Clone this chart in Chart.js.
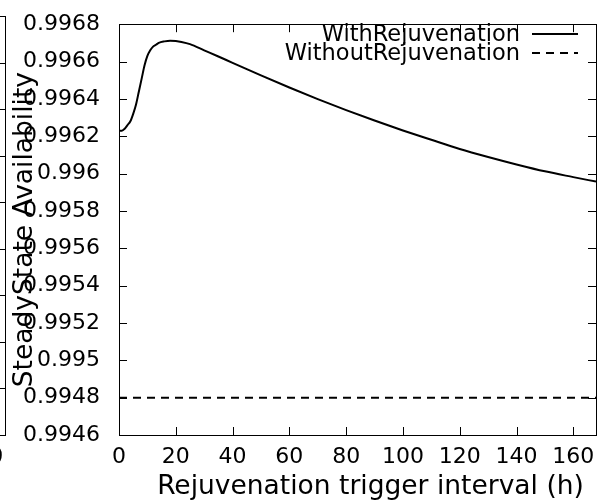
<!DOCTYPE html>
<html>
<head>
<meta charset="utf-8">
<script src="https://cdn.jsdelivr.net/npm/chart.js@4/dist/chart.umd.min.js"></script>
<style>
  html, body { margin: 0; padding: 0; background: #fff; }
  #wrap { position: relative; width: 602px; height: 502px; overflow: hidden; background: #fff; }
  #main { position: absolute; left: 0; top: 0; }
  #frag { position: absolute; left: -591px; top: 0; }
</style>
</head>
<body>
<div id="wrap">
  <canvas id="frag" width="602" height="502"></canvas>
  <canvas id="main" width="602" height="502"></canvas>
</div>
<script>
// ---- data ----
const seriesLabels = ['WithRejuvenation', 'WithoutRejuvenation'];
const withX = [0, 1, 2, 3, 4, 5, 6, 7, 8, 9, 10, 11, 12, 13, 14, 16, 18, 20, 22, 25, 30, 35, 40, 50, 60, 70, 80, 90, 100, 110, 120, 130, 140, 150, 160, 168];
const withY = [0.99623, 0.99623, 0.99624, 0.99626, 0.99628, 0.99632, 0.99637, 0.99644, 0.99651, 0.99658, 0.99663, 0.99666, 0.99668, 0.99669, 0.996700, 0.996708, 0.996712, 0.996710, 0.996705, 0.996693, 0.996660, 0.996627, 0.996593, 0.996526, 0.996461, 0.996399, 0.996340, 0.996284, 0.996231, 0.996181, 0.996132, 0.996089, 0.996049, 0.996012, 0.995981, 0.995957];
const withoutX = [0, 168];
const withoutY = [0.9948, 0.9948];
const xTickValues = [0, 20, 40, 60, 80, 100, 120, 140, 160];
const yTickValues = [0.9946, 0.9948, 0.995, 0.9952, 0.9954, 0.9956, 0.9958, 0.996, 0.9962, 0.9964, 0.9966, 0.9968];
const fragYTickValues = [0, 1, 2, 3, 4, 5, 6, 7, 8, 9];
const xTitle = 'Rejuvenation trigger interval (h)';
const yTitle = 'SteadyState Availability';

const FONT = "'DejaVu Sans', 'Liberation Sans', sans-serif";
Chart.defaults.font.family = FONT;
Chart.defaults.color = '#000';

const toPts = (xs, ys) => xs.map((x, i) => ({ x, y: ys[i] }));

const framePlugin = {
  id: 'gnuFrame',
  afterDatasetsDraw(chart) {
    const { ctx, chartArea: a, scales } = chart;
    ctx.save();
    ctx.strokeStyle = '#000';
    ctx.lineWidth = 1;
    const L = 8;
    ctx.beginPath();
    scales.x.ticks.forEach(t => {
      const p = Math.round(scales.x.getPixelForValue(t.value)) + 0.5;
      ctx.moveTo(p, a.bottom); ctx.lineTo(p, a.bottom - L);
      ctx.moveTo(p, a.top); ctx.lineTo(p, a.top + L);
    });
    scales.y.ticks.forEach(t => {
      const p = Math.round(scales.y.getPixelForValue(t.value)) + 0.5;
      ctx.moveTo(a.left, p); ctx.lineTo(a.left + L, p);
      ctx.moveTo(a.right, p); ctx.lineTo(a.right - L, p);
    });
    ctx.stroke();
    ctx.strokeRect(Math.round(a.left) + 0.5, Math.round(a.top) + 0.5,
      Math.round(a.right - a.left), Math.round(a.bottom - a.top));
    ctx.restore();
  }
};

// gnuplot-style x-axis label, placed as in the reference (slightly right of centre)
const xTitlePlugin = {
  id: 'gnuXTitle',
  afterDraw(chart) {
    const { ctx } = chart;
    ctx.save();
    ctx.font = '26.5px ' + FONT;
    ctx.fillStyle = '#000';
    ctx.textAlign = 'center';
    ctx.textBaseline = 'alphabetic';
    ctx.fillText(xTitle, 370.5, 494);
    ctx.restore();
  }
};

const legendPlugin = {
  id: 'gnuKey',
  afterDraw(chart) {
    const { ctx } = chart;
    const textRight = 520, lineX0 = 532, lineX1 = 578;
    const rows = [34, 53];
    ctx.save();
    ctx.font = '22.5px ' + FONT;
    ctx.textAlign = 'right';
    ctx.textBaseline = 'middle';
    chart.data.datasets.forEach((ds, i) => {
      const y = rows[i];
      ctx.fillStyle = '#000';
      ctx.fillText(ds.label, textRight, y + 1);
      ctx.strokeStyle = ds.borderColor;
      ctx.lineWidth = ds.borderWidth;
      ctx.setLineDash(ds.borderDash || []);
      ctx.beginPath();
      ctx.moveTo(lineX0, y); ctx.lineTo(lineX1, y);
      ctx.stroke();
    });
    ctx.restore();
  }
};

function axisX() {
  return {
    type: 'linear', min: 0, max: 168,
    afterBuildTicks: s => { s.ticks = xTickValues.map(v => ({ value: v })); },
    afterFit: s => { s.height = 67; },
    grid: { display: false }, border: { display: false },
    ticks: { padding: 1, font: { size: 22 }, color: '#000',
      callback: v => String(v), maxRotation: 0, autoSkip: false },
    title: { display: false }
  };
}

new Chart(document.getElementById('main'), {
  type: 'line',
  data: {
    datasets: [
      { label: seriesLabels[0], data: toPts(withX, withY), borderColor: '#000', borderWidth: 2,
        pointRadius: 0, cubicInterpolationMode: 'monotone', fill: false },
      { label: seriesLabels[1], data: toPts(withoutX, withoutY), borderColor: '#000', borderWidth: 2,
        borderDash: [8, 6], pointRadius: 0, fill: false }
    ]
  },
  options: {
    responsive: false, animation: false, devicePixelRatio: 1,
    layout: { padding: { top: 16, right: 6, left: 0, bottom: 0 } },
    plugins: { legend: { display: false }, tooltip: { enabled: false } },
    scales: {
      x: axisX(),
      y: {
        type: 'linear', min: 0.9946, max: 0.9968,
        afterBuildTicks: s => { s.ticks = yTickValues.map(v => ({ value: v })); },
        afterFit: s => { s.width = 119; },
        grid: { display: false }, border: { display: false },
        ticks: { padding: 11, font: { size: 22 }, color: '#000', callback: v => String(v), autoSkip: false },
        title: { display: true, text: yTitle, font: { size: 26.5 }, color: '#000', padding: { top: 9, bottom: 0 } }
      }
    }
  },
  plugins: [framePlugin, xTitlePlugin, legendPlugin]
});

// fragment of the neighbouring panel visible at the left edge
new Chart(document.getElementById('frag'), {
  type: 'line',
  data: { datasets: [] },
  options: {
    responsive: false, animation: false, devicePixelRatio: 1,
    layout: { padding: { top: 16, right: 6, left: 0, bottom: 0 } },
    plugins: { legend: { display: false }, tooltip: { enabled: false } },
    scales: {
      x: axisX(),
      y: {
        type: 'linear', min: 0, max: 9,
        afterBuildTicks: s => { s.ticks = fragYTickValues.map(v => ({ value: v })); },
        afterFit: s => { s.width = 119; },
        grid: { display: false }, border: { display: false },
        ticks: { display: false },
        title: { display: false }
      }
    }
  },
  plugins: [framePlugin]
});
</script>
</body>
</html>
